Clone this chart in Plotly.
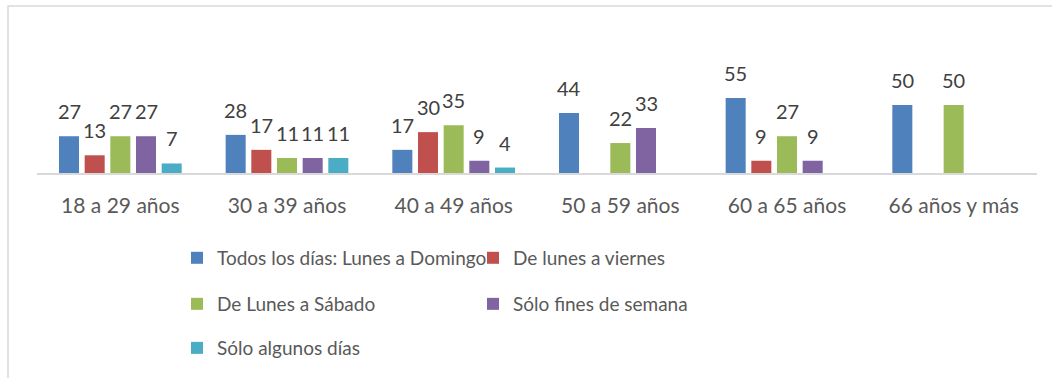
import plotly.graph_objects as go

categories = ["18 a 29 años", "30 a 39 años", "40 a 49 años",
              "50 a 59 años", "60 a 65 años", "66 años y más"]

series_names = ["Todos los días: Lunes a Domingo", "De lunes a viernes",
                "De Lunes a Sábado", "Sólo fines de semana", "Sólo algunos días"]

todos_los_dias = [27, 28, 17, 44, 55, 50]
lunes_a_viernes = [13, 17, 30, None, 9, None]
lunes_a_sabado = [27, 11, 35, 22, 27, 50]
fines_de_semana = [27, 11, 9, 33, 9, None]
algunos_dias = [7, 11, 4, None, None, None]

colors = ["#4F81BD", "#C0504D", "#9BBB59", "#8064A2", "#4BACC6"]
series_values = [todos_los_dias, lunes_a_viernes, lunes_a_sabado,
                 fines_de_semana, algunos_dias]

FONT = "Lato"
BARGAP = 0.23
n_series = len(series_values)
slot = (1 - BARGAP) / n_series

# legend rows: two entries, two entries, one entry
legend_ids = ["legend", "legend", "legend2", "legend2", "legend3"]

fig = go.Figure()
for name, vals, col, lg in zip(series_names, series_values, colors, legend_ids):
    fig.add_trace(go.Bar(
        x=categories, y=vals, name=name, marker_color=col,
        marker_line_width=0, legend=lg,
    ))

# value labels above each bar
for j, vals in enumerate(series_values):
    for i, v in enumerate(vals):
        if v is None:
            continue
        fig.add_annotation(
            x=i + (j - (n_series - 1) / 2) * slot, y=v,
            xref="x", yref="y", text=str(v), showarrow=False,
            yanchor="bottom", yshift=11,
            font=dict(family=FONT, size=20, color="#404040"),
        )

# outer chart frame
fig.add_shape(type="rect", xref="paper", yref="paper",
              x0=-0.029, x1=1.03, y0=-1.7, y1=1.168,
              line=dict(color="#D9D9D9", width=1.5), fillcolor="rgba(0,0,0,0)",
              layer="below")

legend_common = dict(orientation="h", xanchor="left", yanchor="middle",
                     entrywidth=251, entrywidthmode="pixels",
                     font=dict(family=FONT, size=19, color="#595959"),
                     bgcolor="rgba(0,0,0,0)", traceorder="normal")

fig.update_layout(
    width=1052, height=378,
    margin=dict(l=37, r=15, t=30, b=205),
    paper_bgcolor="white", plot_bgcolor="white",
    barmode="group", bargap=BARGAP, bargroupgap=0.22,
    showlegend=True,
    legend=dict(x=0.14, y=-0.594, **legend_common),
    legend2=dict(x=0.14, y=-0.916, **legend_common),
    legend3=dict(x=0.14, y=-1.224, **legend_common),
    xaxis=dict(showline=True, linecolor="#D9D9D9", linewidth=1.5,
               ticks="outside", ticklen=13, tickcolor="rgba(0,0,0,0)",
               tickfont=dict(family=FONT, size=21, color="#595959"),
               showgrid=False, fixedrange=True),
    yaxis=dict(range=[0, 105], visible=False, showgrid=False, fixedrange=True),
)

fig.write_html("out.html")
